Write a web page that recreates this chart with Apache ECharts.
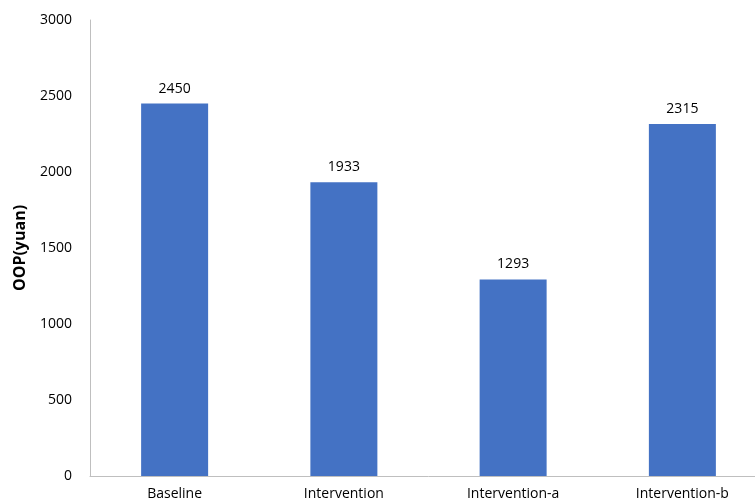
<!DOCTYPE html>
<html><head><meta charset="utf-8">
<script src="https://cdn.jsdelivr.net/npm/echarts@6/dist/echarts.min.js"></script>
<style>html,body{margin:0;padding:0;background:#fff;overflow:hidden;width:755px;height:503px}#c{width:767px;height:503px}</style>
</head><body><div id="c"></div>
<script>
const categories = ['Baseline', 'Intervention', 'Intervention-a', 'Intervention-b'];
const values = [2450, 1933, 1293, 2315];
const yAxisName = 'OOP(yuan)';
const chart = echarts.init(document.getElementById('c'));
chart.setOption({
  animation: false,
  grid: {left: 90, right: 0, top: 20, bottom: 27, containLabel: false},
  xAxis: {
    type: 'category', data: categories,
    axisLine: {lineStyle: {color: '#bfbfbf', width: 1}},
    axisTick: {show: false},
    axisLabel: {color: '#000', fontFamily: 'Open Sans', fontSize: 14, margin: 11}
  },
  yAxis: {
    type: 'value', min: 0, max: 3000, interval: 500,
    name: yAxisName, nameLocation: 'middle', nameGap: 62,
    nameTextStyle: {color: '#000', fontFamily: 'Open Sans', fontSize: 16, fontWeight: 'bold'},
    axisLine: {show: true, lineStyle: {color: '#bfbfbf', width: 1}},
    axisTick: {show: false},
    splitLine: {show: false},
    axisLabel: {color: '#000', fontFamily: 'Open Sans', fontSize: 14, margin: 18, formatter: v => String(v)}
  },
  series: [{
    type: 'bar', data: values, barWidth: 67,
    itemStyle: {color: '#4472c4'},
    label: {show: true, position: 'top', distance: 8, color: '#000', fontFamily: 'Open Sans', fontSize: 14}
  }]
});
</script></body></html>
